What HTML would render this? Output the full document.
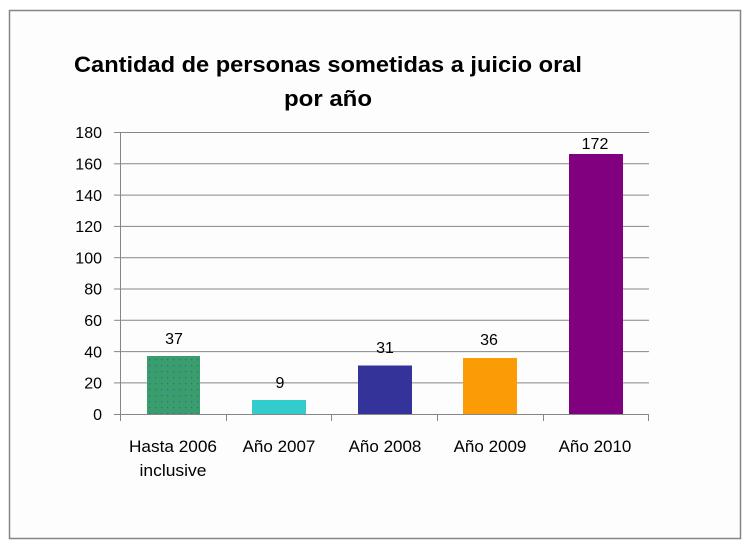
<!DOCTYPE html>
<html><head><meta charset="utf-8"><style>
html,body{margin:0;padding:0;background:#fff;}
svg{display:block;}
text{font-family:"Liberation Sans",sans-serif;fill:#000;}
</style></head><body>
<svg width="750" height="549" viewBox="0 0 750 549" xmlns="http://www.w3.org/2000/svg">
<defs>
<pattern id="dots" x="147" y="356" width="6" height="6" patternUnits="userSpaceOnUse">
<rect width="6" height="6" fill="#399e6b"/>
<rect x="2" y="3" width="1.2" height="1.2" fill="#3a5fb0"/>
</pattern>
</defs>
<rect x="0" y="0" width="750" height="549" fill="#ffffff"/>
<rect x="9.5" y="10.5" width="731" height="528" fill="#fdfdfd" stroke="#858585" stroke-width="1.5"/>
<text x="74" y="72" font-size="22" font-weight="bold" textLength="508" lengthAdjust="spacingAndGlyphs">Cantidad de personas sometidas a juicio oral</text>
<text x="284" y="106" font-size="22" font-weight="bold" textLength="88" lengthAdjust="spacingAndGlyphs">por año</text>
<g stroke="#868686" stroke-width="1">
<line x1="120" y1="132.5" x2="649" y2="132.5"/>
<line x1="120" y1="163.8" x2="649" y2="163.8"/>
<line x1="120" y1="195.1" x2="649" y2="195.1"/>
<line x1="120" y1="226.4" x2="649" y2="226.4"/>
<line x1="120" y1="257.7" x2="649" y2="257.7"/>
<line x1="120" y1="289.0" x2="649" y2="289.0"/>
<line x1="120" y1="320.3" x2="649" y2="320.3"/>
<line x1="120" y1="351.6" x2="649" y2="351.6"/>
<line x1="120" y1="382.9" x2="649" y2="382.9"/>
<line x1="120.5" y1="132" x2="120.5" y2="414"/>
<line x1="114" y1="132.5" x2="120" y2="132.5"/>
<line x1="114" y1="163.8" x2="120" y2="163.8"/>
<line x1="114" y1="195.1" x2="120" y2="195.1"/>
<line x1="114" y1="226.4" x2="120" y2="226.4"/>
<line x1="114" y1="257.7" x2="120" y2="257.7"/>
<line x1="114" y1="289.0" x2="120" y2="289.0"/>
<line x1="114" y1="320.3" x2="120" y2="320.3"/>
<line x1="114" y1="351.6" x2="120" y2="351.6"/>
<line x1="114" y1="382.9" x2="120" y2="382.9"/>
<line x1="114" y1="414.5" x2="649" y2="414.5"/>
<line x1="120.5" y1="414" x2="120.5" y2="421"/>
<line x1="226.5" y1="414" x2="226.5" y2="421"/>
<line x1="331.5" y1="414" x2="331.5" y2="421"/>
<line x1="437.5" y1="414" x2="437.5" y2="421"/>
<line x1="543.5" y1="414" x2="543.5" y2="421"/>
<line x1="648.5" y1="414" x2="648.5" y2="421"/>
</g>
<rect x="147" y="356" width="53" height="58" fill="url(#dots)"/>
<rect x="252" y="400" width="54" height="14" fill="#33cccc"/>
<rect x="358" y="365.5" width="54" height="48.5" fill="#333399"/>
<rect x="463" y="358" width="54" height="56" fill="#fb9b06"/>
<rect x="569" y="154" width="54" height="260" fill="#800080"/>
<g font-size="16" text-anchor="end">
<text x="102" y="138">180</text>
<text x="102" y="169.5">160</text>
<text x="102" y="200.8">140</text>
<text x="102" y="232.1">120</text>
<text x="102" y="263.4">100</text>
<text x="102" y="294.7">80</text>
<text x="102" y="326">60</text>
<text x="102" y="357.3">40</text>
<text x="102" y="388.6">20</text>
<text x="102" y="420">0</text>
</g>
<g font-size="16" text-anchor="middle">
<text x="174" y="344">37</text>
<text x="280" y="388">9</text>
<text x="385" y="353">31</text>
<text x="489" y="345">36</text>
<text x="595" y="149">172</text>
</g>
<g font-size="17" text-anchor="middle">
<text x="173" y="452" textLength="88" lengthAdjust="spacingAndGlyphs">Hasta 2006</text>
<text x="173" y="476" textLength="67" lengthAdjust="spacingAndGlyphs">inclusive</text>
<text x="279" y="452">Año 2007</text>
<text x="385" y="452">Año 2008</text>
<text x="490" y="452">Año 2009</text>
<text x="595" y="452">Año 2010</text>
</g>
</svg>
</body></html>
